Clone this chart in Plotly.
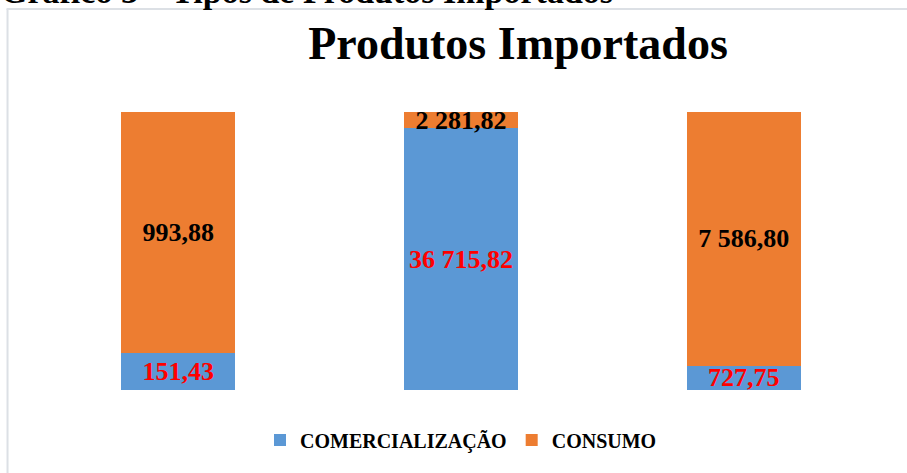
import plotly.graph_objects as go

categories = ["Grupo 1", "Grupo 2", "Grupo 3"]
comercializacao = [151.43, 36715.82, 727.75]
consumo = [993.88, 2281.82, 7586.80]
comercializacao_labels = ["151,43", "36 715,82", "727,75"]
consumo_labels = ["993,88", "2 281,82", "7 586,80"]

SERIF = "Liberation Serif, DejaVu Serif, serif"

fig = go.Figure()
fig.add_trace(go.Bar(
    name="<b>COMERCIALIZAÇÃO</b>", x=categories, y=comercializacao,
    text=comercializacao_labels, texttemplate="<b>%{text}</b>",
    textposition="inside", insidetextanchor="middle",
    constraintext="none", textangle=0,
    textfont=dict(family=SERIF, size=26, color="#FF0000"),
    marker=dict(color="#5B98D5", line=dict(width=0)),
    hoverinfo="skip",
))
fig.add_trace(go.Bar(
    name="<b>CONSUMO</b>", x=categories, y=consumo,
    text=consumo_labels, texttemplate="<b>%{text}</b>",
    textposition="inside", insidetextanchor="middle",
    constraintext="none", textangle=0,
    textfont=dict(family=SERIF, size=26, color="#000000"),
    marker=dict(color="#ED7D31", line=dict(width=0)),
    hoverinfo="skip",
))

fig.update_layout(
    width=907, height=473,
    barmode="stack", barnorm="percent", bargap=0.597,
    margin=dict(l=36.5, r=21.5, t=112, b=83),
    paper_bgcolor="white", plot_bgcolor="white",
    font=dict(family=SERIF, color="black"),
    title=dict(text="<b>Produtos Importados</b>", x=518 / 907, xanchor="center",
               y=1 - 43 / 473, yanchor="middle",
               font=dict(family=SERIF, size=46, color="black")),
    xaxis=dict(visible=False),
    yaxis=dict(visible=False, range=[0, 100]),
    legend=dict(orientation="h", x=0.5, xanchor="center", y=(390 - 440) / 278, yanchor="middle",
                font=dict(family=SERIF, size=20, color="black"), traceorder="normal",
                itemwidth=30),
    showlegend=True,
)

fig.add_annotation(text="<b>Gráfico 3 – Tipos de Produtos Importados</b>", xref="paper", yref="paper",
                   x=(-2 - 36.5) / 849, xanchor="left", y=(390 + 9) / 278, yanchor="middle",
                   showarrow=False, font=dict(family=SERIF, size=34, color="black"))

line_col = "#DCE0E5"
fig.add_shape(type="line", xref="paper", yref="paper",
              x0=(7 - 36.5) / 849, x1=(7 - 36.5) / 849, y0=(390 - 9) / 278, y1=-0.4,
              line=dict(color=line_col, width=2))
fig.add_shape(type="line", xref="paper", yref="paper",
              x0=(6 - 36.5) / 849, x1=1.1, y0=(390 - 9) / 278, y1=(390 - 9) / 278,
              line=dict(color=line_col, width=2))

fig.write_html("out.html", config={"displayModeBar": False},
               post_script="document.body.style.margin='0px';document.body.style.overflow='hidden';")
